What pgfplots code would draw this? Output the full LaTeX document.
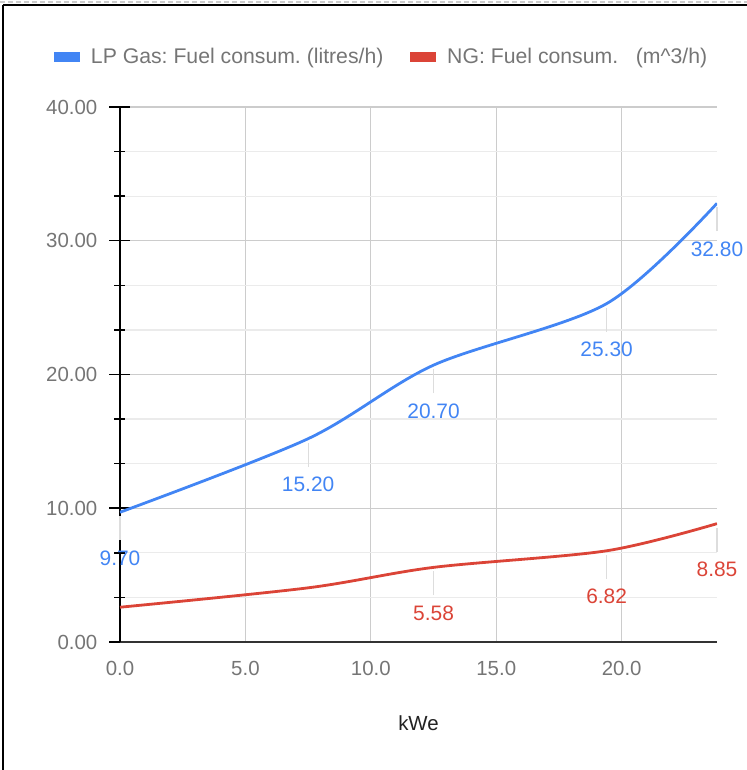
\documentclass[border=0pt]{standalone}
\usepackage{fontspec}
\setmainfont{Liberation Sans}
\frenchspacing
\usepackage{pgfplots}
\pgfplotsset{compat=1.18}
\definecolor{lpblue}{HTML}{4285F4}
\definecolor{ngred}{HTML}{DB4437}
\definecolor{tickgray}{HTML}{757575}
\definecolor{gridmaj}{HTML}{CCCCCC}
\definecolor{gridmin}{HTML}{EBEBEB}
\definecolor{leader}{HTML}{DDDDDD}
\definecolor{titlegray}{HTML}{222222}
\definecolor{xaxis}{HTML}{333333}
\begin{document}
\begin{tikzpicture}
\useasboundingbox (-120bp,-128bp) rectangle (627bp,642bp);
\draw[gridmaj, dash pattern=on 5bp off 3bp, line width=1.5bp] (-120bp,640bp) -- (627bp,640bp);
\draw[black, line width=2bp] (-117bp,637bp) -- (627bp,637bp);
\draw[black, line width=2.5bp] (-117bp,637bp) -- (-117bp,-128bp);
\begin{axis}[
  at={(0,0)}, anchor=south west,
  scale only axis, width=597bp, height=535bp,
  xmin=0, xmax=23.8, ymin=0, ymax=40,
  xtick={0,5,10,15,20}, ytick={0,10,20,30,40},
  minor y tick num=2,
  xmajorgrids, ymajorgrids, yminorgrids,
  major grid style={gridmaj, line width=1.2bp},
  minor grid style={gridmin, line width=1.2bp},
  axis lines*=left,
  x axis line style={draw=xaxis, line width=1.2bp, -},
  y axis line style={black, line width=2bp, -},
  xtick style={draw=none},
  ytick style={black, line width=1.5bp},
  tick align=center,
  major tick length=21bp, minor tick length=11bp,
  /pgf/number format/assume math mode=true,
  xticklabel={\pgfmathprintnumber[fixed,precision=1,zerofill]{\tick}},
  yticklabel={\pgfmathprintnumber[fixed,precision=2,zerofill]{\tick}},
  xticklabel style={font=\fontsize{20.5}{24}\selectfont, text=tickgray, inner sep=0pt, anchor=north, yshift=-9bp},
  yticklabel style={font=\fontsize{20.5}{24}\selectfont, text=tickgray, inner sep=0pt, anchor=east, xshift=-12bp},
  xlabel={kWe},
  xlabel style={font=\fontsize{20.5}{24}\selectfont, text=titlegray, yshift=-36bp},
  legend columns=2,
  legend style={draw=none, fill=none, inner sep=0pt, text=tickgray,
    font=\fontsize{21.3}{25}\selectfont,
    at={(-0.1106,1.0935)}, anchor=west,
    nodes={inner sep=0pt},
    /tikz/every odd column/.append style={column sep=11bp},
    /tikz/every even column/.append style={column sep=27bp}},
  legend image code/.code={\fill[#1] (0bp,-3.5bp) rectangle (23bp,3.5bp);},
  lab/.style={draw=none, forget plot, mark=none,
    point meta=explicit symbolic, nodes near coords,
    every node near coord/.append style={anchor=center, yshift=-46bp, inner sep=0pt,
      font=\fontsize{21}{25}\selectfont, text=#1,
      append after command={([yshift=10.5bp]\tikzlastnode.north) edge[draw=leader, line width=1.2bp] ++(0,24bp)}}},
]
\addplot[lpblue, line width=2.8bp, smooth, mark=none]
  coordinates {(0,9.70) (7.5,15.20) (12.5,20.70) (19.4,25.30) (23.8,32.80)};
\addlegendentry{LP Gas: Fuel consum. (litres/h)}
\addplot[ngred, line width=2.8bp, smooth, mark=none]
  coordinates {(0,2.60) (7.5,4.05) (12.5,5.58) (19.4,6.82) (23.8,8.85)};
\addlegendentry{NG: Fuel consum.\ \ \ (m\textasciicircum 3/h)}
\addplot[lab=lpblue]
  coordinates {(0,9.70) [9.70] (7.5,15.20) [15.20] (12.5,20.70) [20.70] (19.4,25.30) [25.30] (23.8,32.80) [32.80]};
\addplot[lab=ngred]
  coordinates {(12.5,5.58) [5.58] (19.4,6.82) [6.82] (23.8,8.85) [8.85]};
\end{axis}
\end{tikzpicture}
\end{document}
